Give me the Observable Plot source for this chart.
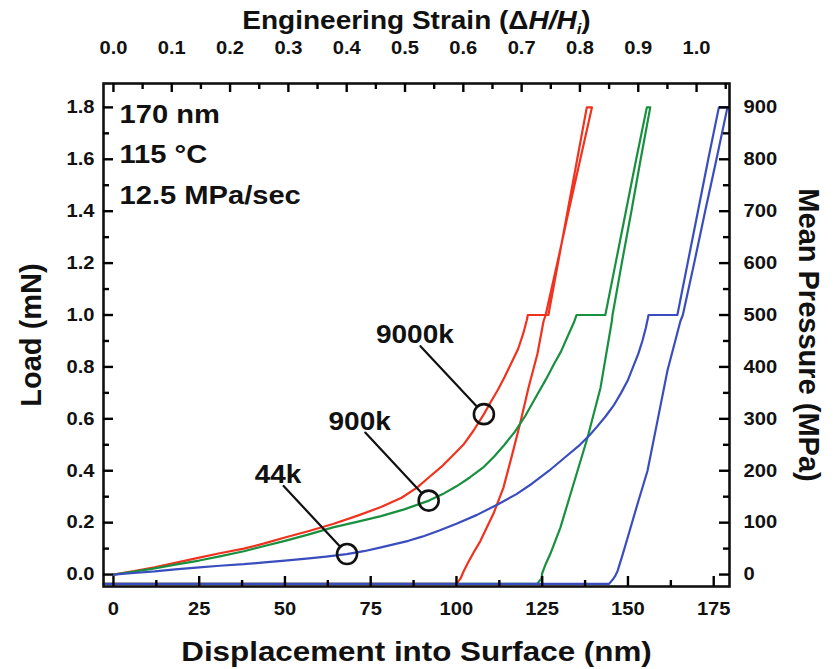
<!DOCTYPE html>
<html><head><meta charset="utf-8">
<script src="https://cdn.jsdelivr.net/npm/d3@7"></script>
<script src="https://cdn.jsdelivr.net/npm/@observablehq/plot@0.6"></script>
<style>body{margin:0;background:#fff} #chart{width:836px;height:669px}</style>
</head><body><div id="chart"></div>
<script>
// ---- data ----
const H = 170;                 // film thickness (nm) used for engineering strain
const PRESSURE_PER_LOAD = 500; // MPa per mN
const xTicks = [0, 25, 50, 75, 100, 125, 150, 175];
const xMinorTicks = [12.5, 37.5, 62.5, 87.5, 112.5, 137.5, 162.5];
const strainTicks = [0, 0.1, 0.2, 0.3, 0.4, 0.5, 0.6, 0.7, 0.8, 0.9, 1.0];
const strainMinorTicks = [0.05, 0.15, 0.25, 0.35, 0.45, 0.55, 0.65, 0.75, 0.85, 0.95, 1.05];
const loadTicks = [0, 0.2, 0.4, 0.6, 0.8, 1.0, 1.2, 1.4, 1.6, 1.8];
const loadMinorTicks = [0.1, 0.3, 0.5, 0.7, 0.9, 1.1, 1.3, 1.5, 1.7];
const pressureTicks = [0, 100, 200, 300, 400, 500, 600, 700, 800, 900];
const pressureMinorTicks = [50, 150, 250, 350, 450, 550, 650, 750, 850];

const seriesNames = ["9000k", "900k", "44k"];
const seriesColors = ["#f0321e", "#18903f", "#3a4dbf"];

// [displacement nm, load mN] : load, hold at 1 mN, reload, hold at 1.8 mN, unload, retract
const curve9000k = [[0,0],[6,0.013],[12,0.028],[18,0.045],[25,0.065],[31,0.082],[38,0.1],[44,0.12],[50,0.143],[57,0.168],[64,0.195],[71,0.226],[78,0.26],[84,0.296],[88.5,0.335],[92,0.375],[96,0.42],[99,0.46],[102,0.5],[105,0.555],[108,0.618],[110,0.665],[112,0.71],[114,0.76],[116,0.815],[118,0.87],[119.5,0.93],[120.5,0.98],[120.8,1.0],[126.8,1.0],[129.6,1.2],[132.4,1.4],[135.2,1.6],[138,1.8],[139.5,1.8],[136.1,1.6],[132.7,1.4],[129.4,1.2],[126,1.0],[125.4,0.977],[123.6,0.85],[121,0.72],[118.7,0.59],[116.3,0.465],[113.7,0.335],[110.8,0.235],[107,0.13],[105,0.085],[103.2,0.042],[102,0.01],[101.2,-0.015],[100,-0.036],[-2.9,-0.036]];
const curve900k = [[0,0],[6,0.011],[12,0.024],[18,0.038],[25,0.054],[31,0.07],[38,0.09],[44,0.11],[50,0.13],[57,0.155],[64,0.182],[71,0.203],[78,0.225],[85,0.252],[92,0.285],[96,0.31],[100,0.34],[104,0.375],[108,0.415],[111,0.455],[114,0.5],[117,0.55],[120,0.61],[123,0.68],[126,0.75],[128.4,0.81],[130.5,0.86],[132.5,0.92],[134.2,0.97],[135,1.0],[143.4,1.0],[146.4,1.2],[149.4,1.4],[152.4,1.6],[155.5,1.8],[156.5,1.8],[153.7,1.6],[151,1.4],[148.2,1.2],[145.5,1.0],[145.3,0.977],[142,0.72],[138.2,0.527],[135.3,0.4],[132.4,0.273],[130.3,0.181],[127.4,0.081],[126,0.04],[125,0.005],[124.8,-0.015],[123.5,-0.036],[-2.9,-0.036]];
const curve44k = [[0,0],[6,0.006],[12,0.012],[18,0.02],[25,0.028],[31,0.034],[38,0.04],[44,0.047],[50,0.054],[57,0.062],[62,0.069],[68,0.079],[73,0.09],[78,0.105],[82,0.117],[86,0.13],[90,0.146],[95,0.17],[100,0.196],[106,0.23],[112,0.27],[117.5,0.31],[122,0.35],[127,0.4],[131.5,0.45],[136,0.5],[139,0.54],[141,0.57],[143.5,0.61],[146,0.655],[148,0.7],[150,0.75],[151.5,0.8],[153,0.85],[154.2,0.9],[155.2,0.95],[156,1.0],[164.4,1.0],[167.4,1.2],[170.4,1.4],[173.4,1.6],[176.5,1.8],[179,1.8],[175.8,1.6],[172.5,1.4],[169.3,1.2],[166,1.0],[165.3,0.977],[161.5,0.785],[158.6,0.592],[155.7,0.4],[152.8,0.273],[149.9,0.142],[148.4,0.075],[147,0.015],[146.3,-0.005],[145.8,-0.015],[144.5,-0.036],[-2.9,-0.036]];

// circled points annotated with the molecular weight
const markerX = [108, 91.9, 68.1];
const markerY = [0.618, 0.285, 0.079];

const infoLines = ["170 nm", "115 °C", "12.5 MPa/sec"];
const xTitle = "Displacement into Surface (nm)";
const topTitle = "Engineering Strain (ΔH/H_i)";
const yTitle = "Load (mN)";
const y2Title = "Mean Pressure (MPa)";

// ---- build ----
const W = 836, HT = 669, ML = 103, MR = 107, MT = 83, MB = 83;
const X_DOMAIN = [-2.9, 179.6], Y_DOMAIN = [-0.046, 1.892];
const PX_X = (X_DOMAIN[1] - X_DOMAIN[0]) / (W - ML - MR);
const PX_Y = (Y_DOMAIN[1] - Y_DOMAIN[0]) / (HT - MT - MB);
const curves = [curve9000k, curve900k, curve44k];
const lineData = seriesNames.flatMap((name, k) => curves[k].map(([x, y]) => ({name, x, y})));
const markers = seriesNames.map((name, i) => ({name, x: markerX[i], y: markerY[i]}));

const FONT = "'Liberation Sans', Arial, sans-serif";
const axisText = {label: null, tickSize: 0};
const leader = {draw(ctx, l) { ctx.moveTo(0, -10); ctx.lineTo(0, -l); }};
const inTicks = (vals, side, len) => {
  const o = {stroke: "black", strokeWidth: 2.4};
  const [x0, x1] = X_DOMAIN, [y0, y1] = Y_DOMAIN;
  if (side === "bottom") return Plot.ruleX(vals, {...o, x: d => d, y1: () => y0, y2: () => y0 + len * PX_Y});
  if (side === "top") return Plot.ruleX(vals, {...o, x: d => d, y1: () => y1, y2: () => y1 - len * PX_Y});
  if (side === "left") return Plot.ruleY(vals, {...o, y: d => d, x1: () => x0, x2: () => x0 + len * PX_X});
  return Plot.ruleY(vals, {...o, y: d => d, x1: () => x1, x2: () => x1 - len * PX_X});
};

const chart = Plot.plot({
  width: W, height: HT,
  marginLeft: ML, marginRight: MR, marginTop: MT, marginBottom: MB,
  style: {fontFamily: FONT, fontWeight: "bold", fontSize: "18px", color: "#111", background: "#fff"},
  x: {domain: X_DOMAIN, axis: null},
  y: {domain: Y_DOMAIN, axis: null},
  color: {domain: seriesNames, range: seriesColors},
  marks: [
    Plot.line(lineData, {x: "x", y: "y", z: "name", stroke: "name", strokeWidth: 2.2, curve: "linear"}),
    Plot.dot(markers, {x: "x", y: "y", r: 10, stroke: "#111", strokeWidth: 2.6, fill: "none"}),
    Plot.vector(markers, {x: "x", y: "y", rotate: -43, length: 93, anchor: "start", shape: leader, stroke: "#111", strokeWidth: 2.2}),
    Plot.text(markers, {x: "x", y: "y", text: "name", dx: -69, dy: -79, fontSize: 25, fill: "#111"}),
    Plot.text([infoLines.join("\n")], {frameAnchor: "top-left", dx: 16, dy: 11, lineAnchor: "top", textAnchor: "start", lineHeight: 1.55, fontSize: 26}),
    // tick labels
    Plot.axisX(xTicks, {...axisText, anchor: "bottom", tickPadding: 16}),
    Plot.axisX(strainTicks.map(s => s * H), {...axisText, anchor: "top", tickPadding: 30, tickFormat: d => (d / H).toFixed(1)}),
    Plot.axisY(loadTicks, {...axisText, anchor: "left", tickPadding: 9, tickFormat: d => d.toFixed(1)}),
    Plot.axisY(pressureTicks.map(p => p / PRESSURE_PER_LOAD), {...axisText, anchor: "right", tickPadding: 14, tickFormat: d => String(Math.round(d * PRESSURE_PER_LOAD))}),
    Plot.frame({stroke: "#111", strokeWidth: 2.6}),
    // ticks pointing inward
    inTicks(xTicks, "bottom", 10), inTicks(xMinorTicks, "bottom", 6),
    inTicks(strainTicks.map(s => s * H), "top", 9), inTicks(strainMinorTicks.map(s => s * H), "top", 6),
    inTicks(loadTicks, "left", 10), inTicks(loadMinorTicks, "left", 6),
    inTicks(pressureTicks.map(p => p / PRESSURE_PER_LOAD), "right", 10), inTicks(pressureMinorTicks.map(p => p / PRESSURE_PER_LOAD), "right", 6),
    // titles
    Plot.text([xTitle], {frameAnchor: "bottom", dy: 66, lineAnchor: "middle", textAnchor: "middle", fontSize: 28}),
    Plot.text([topTitle], {frameAnchor: "top", dy: -63, lineAnchor: "middle", textAnchor: "middle", fontSize: 25}),
    Plot.text([yTitle], {frameAnchor: "left", dx: -72, rotate: -90, lineAnchor: "middle", textAnchor: "middle", fontSize: 29}),
    Plot.text([y2Title], {frameAnchor: "right", dx: 79, rotate: 90, lineAnchor: "middle", textAnchor: "middle", fontSize: 29})
  ]
});
document.getElementById("chart").appendChild(chart);

// rich text for the strain title: italic H/H with subscript i
chart.querySelectorAll("text").forEach(t => {
  if (t.textContent === topTitle) {
    t.textContent = "";
    const ns = "http://www.w3.org/2000/svg";
    const add = (s, attrs) => { const e = document.createElementNS(ns, "tspan"); e.textContent = s; for (const k in attrs) e.setAttribute(k, attrs[k]); t.appendChild(e); return e; };
    add("Engineering Strain (Δ", {});
    add("H/H", {"font-style": "italic"});
    add("i", {"font-style": "italic", "font-size": "15px", "baseline-shift": "-30%"});
    add(")", {});
  }
});

// the source figure is horizontally stretched: widen horizontal glyphs accordingly
const STRETCH = 1.12;
chart.querySelectorAll("text").forEach(t => {
  if ((t.getAttribute("transform") || "").includes("rotate")) return;
  const lines = [...t.querySelectorAll("tspan")].filter(s => s.hasAttribute("x"));
  const targets = lines.length ? lines : [t];
  targets.forEach(el => {
    const w = el.getComputedTextLength();
    if (w > 0) { el.setAttribute("textLength", (w * STRETCH).toFixed(1)); el.setAttribute("lengthAdjust", "spacingAndGlyphs"); }
  });
});
</script></body></html>
